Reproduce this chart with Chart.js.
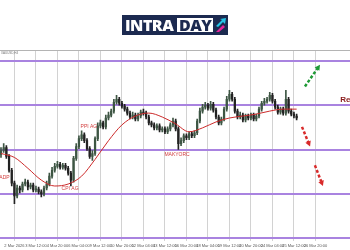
<!DOCTYPE html>
<html>
<head>
<meta charset="utf-8">
<script src="https://cdn.jsdelivr.net/npm/chart.js@4.4.1/dist/chart.umd.min.js"></script>
<style>
  body { margin: 0; background: #fff; }
  #wrap { position: relative; width: 350px; height: 250px; overflow: hidden; }
  #grafico { position: absolute; left: 0; top: 0; }
  #logo { position: absolute; left: 122px; top: 15px; width: 106px; height: 20px; background: #1c2a50;
          font-family: "Open Sans", sans-serif; font-weight: 800; font-size: 16px; line-height: 20px; }
  #logo .intra { position: absolute; left: 3px; top: 0; color: #fff; letter-spacing: -0.5px; }
  #logo .day { position: absolute; left: 55px; top: 3px; height: 14px; line-height: 14px; padding: 0 2px;
               background: #fff; color: #1c2a50; letter-spacing: -0.5px; }
  #logo svg { position: absolute; left: 93px; top: 2px; }
</style>
</head>
<body>
<div id="wrap">
  <canvas id="grafico" width="350" height="250"></canvas>
  <div id="logo">
    <span class="intra">INTRA</span><span class="day">DAY</span>
    <svg width="12" height="16" viewBox="0 0 12 16">
      <polygon points="1,9 7,3 5,2 11,1 10,7 8,5 3,10" fill="#25c4e6"/>
      <polygon points="1,15 8,8 10,10 4,15" fill="#e3259b"/>
    </svg>
  </div>
</div>
<script>
// candles (H4)
var opens = [
  5170, 5178, 5184, 5166, 5138, 5112, 5086, 5102, 5098, 5110,
  5114, 5104, 5108, 5098, 5100, 5094, 5090, 5102, 5110, 5126,
  5138, 5146, 5150, 5144, 5148, 5142, 5132, 5118, 5162, 5186,
  5202, 5210, 5198, 5182, 5166, 5172, 5202, 5228, 5234, 5226,
  5244, 5250, 5258, 5276, 5282, 5274, 5268, 5262, 5254, 5246,
  5250, 5242, 5248, 5256, 5254, 5246, 5234, 5230, 5224, 5228,
  5220, 5222, 5216, 5222, 5230, 5238, 5222, 5192, 5198, 5208,
  5204, 5212, 5208, 5214, 5238, 5258, 5266, 5270, 5264, 5272,
  5260, 5246, 5234, 5242, 5262, 5282, 5292, 5282, 5258, 5246,
  5250, 5240, 5248, 5244, 5250, 5242, 5248, 5262, 5274, 5278,
  5282, 5290, 5278, 5266, 5256, 5262, 5254, 5282, 5258, 5252, 5248
];
var closes = [
  5178, 5184, 5166, 5138, 5112, 5086, 5102, 5098, 5110, 5114,
  5104, 5108, 5098, 5100, 5094, 5090, 5102, 5110, 5126, 5138,
  5146, 5150, 5144, 5148, 5142, 5132, 5118, 5162, 5186, 5202,
  5210, 5198, 5182, 5166, 5172, 5202, 5228, 5234, 5226, 5244,
  5250, 5258, 5276, 5282, 5274, 5268, 5262, 5254, 5246, 5250,
  5242, 5248, 5256, 5254, 5246, 5234, 5230, 5224, 5228, 5220,
  5222, 5216, 5222, 5230, 5238, 5222, 5192, 5198, 5208, 5204,
  5212, 5208, 5214, 5238, 5258, 5266, 5270, 5264, 5272, 5260,
  5246, 5234, 5242, 5262, 5282, 5292, 5282, 5258, 5246, 5250,
  5240, 5248, 5244, 5250, 5242, 5248, 5262, 5274, 5278, 5282,
  5290, 5278, 5266, 5256, 5262, 5254, 5282, 5258, 5252, 5248, 5244
];
var highs = [
  5184, 5192, 5188, 5170, 5142, 5116, 5108, 5106, 5114, 5120,
  5118, 5112, 5112, 5106, 5104, 5098, 5106, 5116, 5132, 5144,
  5152, 5156, 5154, 5152, 5152, 5146, 5136, 5166, 5192, 5208,
  5218, 5214, 5202, 5186, 5178, 5206, 5234, 5240, 5238, 5250,
  5256, 5262, 5282, 5290, 5286, 5278, 5272, 5266, 5258, 5256,
  5254, 5254, 5260, 5262, 5258, 5250, 5238, 5234, 5232, 5232,
  5226, 5226, 5226, 5234, 5244, 5242, 5226, 5204, 5212, 5212,
  5216, 5216, 5218, 5242, 5264, 5272, 5276, 5274, 5278, 5276,
  5264, 5250, 5246, 5266, 5288, 5300, 5296, 5286, 5262, 5256,
  5254, 5252, 5252, 5254, 5254, 5252, 5266, 5278, 5284, 5286,
  5296, 5294, 5282, 5270, 5266, 5266, 5300, 5286, 5262, 5256, 5252
];
var lows = [
  5164, 5174, 5162, 5134, 5106, 5070, 5082, 5092, 5094, 5106,
  5098, 5100, 5094, 5094, 5090, 5084, 5086, 5098, 5106, 5122,
  5134, 5142, 5140, 5140, 5138, 5128, 5106, 5114, 5158, 5182,
  5198, 5194, 5178, 5162, 5158, 5168, 5198, 5224, 5222, 5222,
  5240, 5246, 5254, 5272, 5270, 5264, 5258, 5250, 5242, 5242,
  5238, 5238, 5244, 5250, 5242, 5230, 5226, 5220, 5220, 5216,
  5216, 5212, 5212, 5218, 5226, 5218, 5180, 5188, 5194, 5200,
  5200, 5204, 5204, 5210, 5234, 5254, 5262, 5260, 5260, 5256,
  5242, 5230, 5230, 5238, 5258, 5278, 5278, 5254, 5242, 5242,
  5236, 5236, 5240, 5240, 5238, 5238, 5244, 5258, 5270, 5274,
  5278, 5274, 5262, 5252, 5252, 5250, 5250, 5254, 5248, 5244, 5240
];

// media movel (linha vermelha), um ponto a cada 5 velas
var maIndex = [0, 5, 10, 15, 20, 25, 30, 35, 40, 45, 50, 55, 60, 65, 70, 75, 80, 85, 90, 95, 100, 105, 110];
var maValues = [5172, 5164, 5142, 5118, 5106, 5110, 5126, 5160, 5198, 5230, 5248, 5254,
                5246, 5232, 5216, 5224, 5236, 5244, 5248, 5252, 5258, 5262, 5262];

// suportes / resistencias (linhas roxas)
var levels = [5360, 5270, 5180, 5090, 5000];

// eixo de datas
var tickIndex = [5, 13, 21, 29, 37, 45, 53, 61, 69, 77, 85, 93, 101, 109, 117];
var dateLabels = ["2 Mar 2026", "3 Mar 12:00", "4 Mar 20:00", "6 Mar 04:00", "9 Mar 12:00",
                  "10 Mar 20:00", "12 Mar 04:00", "13 Mar 12:00", "16 Mar 20:00", "18 Mar 04:00",
                  "19 Mar 12:00", "20 Mar 20:00", "24 Mar 04:00", "25 Mar 12:00", "26 Mar 20:00"];

// anotacoes (em unidades do grafico)
var notes = [
  { text: "ADP", x: 3.2, y: 5122, align: "right" },
  { text: "CPI AG", x: 25.7, y: 5100, align: "center" },
  { text: "PPI AG", x: 32.7, y: 5226, align: "center" },
  { text: "MAKYORC", x: 65.5, y: 5170, align: "center" }
];
var arrows = [
  { from: [113.1, 5308], to: [118.7, 5352], color: "#1f9a36" },
  { from: [112.0, 5226], to: [115.0, 5186], color: "#d82a2a" },
  { from: [116.8, 5148], to: [119.8, 5106], color: "#d82a2a" }
];

var wickData = [], bodyData = [], maData = [];
for (var i = 0; i < closes.length; i++) {
  wickData.push({ x: i, y: [lows[i], highs[i]] });
  bodyData.push({ x: i, y: [opens[i], closes[i]] });
}
for (var k = 0; k < maIndex.length; k++) {
  maData.push({ x: maIndex[k], y: maValues[k] });
}

var xMin = -0.37, xMax = 129.86;

function candleColor(ctx) {
  var i = ctx.dataIndex;
  return closes[i] >= opens[i] ? "#3e5644" : "#222";
}

function drawLevel(chart, lv) {
  var ctx = chart.ctx;
  var area = chart.chartArea;
  var y = Math.round(chart.scales.y.getPixelForValue(lv));
  ctx.save();
  ctx.fillStyle = "#a983e0";
  ctx.fillRect(area.left, y - 1, area.right - area.left, 2);
  ctx.restore();
}

function drawArrow(ctx, x1, y1, x2, y2, color) {
  var ang = Math.atan2(y2 - y1, x2 - x1);
  var head = 6;
  var ex = x2 - Math.cos(ang) * head * 0.8;
  var ey = y2 - Math.sin(ang) * head * 0.8;
  ctx.strokeStyle = color;
  ctx.fillStyle = color;
  ctx.lineWidth = 2.5;
  ctx.setLineDash([3, 2]);
  ctx.beginPath();
  ctx.moveTo(x1, y1);
  ctx.lineTo(ex, ey);
  ctx.stroke();
  ctx.setLineDash([]);
  ctx.beginPath();
  ctx.moveTo(x2, y2);
  ctx.lineTo(x2 - head * Math.cos(ang - 0.5), y2 - head * Math.sin(ang - 0.5));
  ctx.lineTo(x2 - head * Math.cos(ang + 0.5), y2 - head * Math.sin(ang + 0.5));
  ctx.closePath();
  ctx.fill();
}

var extras = {
  id: "extras",
  beforeDatasetsDraw: function (chart) {
    // linhas roxas atras das velas
    levels.forEach(function (lv) { drawLevel(chart, lv); });
  },
  afterDatasetsDraw: function (chart) {
    var ctx = chart.ctx;
    var xs = chart.scales.x;
    var ys = chart.scales.y;
    var area = chart.chartArea;
    ctx.save();

    // borda de cima
    ctx.strokeStyle = "#b4b4b4";
    ctx.lineWidth = 1;
    ctx.beginPath();
    ctx.moveTo(area.left, area.top + 0.5);
    ctx.lineTo(area.right, area.top + 0.5);
    ctx.stroke();

    ctx.fillStyle = "#777";
    ctx.font = "3px 'Liberation Sans'";
    ctx.textAlign = "left";
    ctx.textBaseline = "top";
    ctx.fillText("XAUUSD,H4", area.left + 1, area.top + 2);

    arrows.forEach(function (a) {
      drawArrow(ctx,
        xs.getPixelForValue(a.from[0]), ys.getPixelForValue(a.from[1]),
        xs.getPixelForValue(a.to[0]), ys.getPixelForValue(a.to[1]), a.color);
    });

    ctx.fillStyle = "#d23c3c";
    ctx.font = "5px 'Liberation Sans'";
    ctx.textBaseline = "middle";
    notes.forEach(function (n) {
      ctx.textAlign = n.align;
      ctx.fillText(n.text, xs.getPixelForValue(n.x), ys.getPixelForValue(n.y));
    });

    // texto da resistencia, cortado na borda
    ctx.fillStyle = "#8a1c1c";
    ctx.font = "bold 8px 'Liberation Sans'";
    ctx.textAlign = "left";
    ctx.textBaseline = "bottom";
    ctx.fillText("Resistance", xs.getPixelForValue(126.2), ys.getPixelForValue(levels[1]) - 1);

    ctx.restore();
  },
  afterDraw: function (chart) {
    // a linha de baixo nao tem velas por cima, desenha de novo no fim
    drawLevel(chart, levels[levels.length - 1]);
  }
};

var graf = document.getElementById("grafico").getContext("2d");
var grafico = new Chart(graf, {
  type: "bar",
  data: {
    datasets: [
      {
        type: "bar",
        data: wickData,
        backgroundColor: candleColor,
        barThickness: 1,
        grouped: false,
        order: 2
      },
      {
        type: "bar",
        data: bodyData,
        backgroundColor: candleColor,
        barThickness: 1.6,
        minBarLength: 1,
        grouped: false,
        order: 2
      },
      {
        type: "line",
        data: maData,
        borderColor: "#cc2b2b",
        borderWidth: 1,
        pointRadius: 0,
        cubicInterpolationMode: "monotone",
        order: 1
      }
    ]
  },
  options: {
    responsive: false,
    animation: false,
    devicePixelRatio: 1,
    layout: { padding: { top: 50, left: 0, right: 0, bottom: 0 } },
    plugins: {
      legend: { display: false },
      tooltip: { enabled: false },
      title: { display: false }
    },
    scales: {
      x: {
        type: "linear",
        offset: false,
        min: xMin,
        max: xMax,
        afterBuildTicks: function (axis) {
          axis.ticks = tickIndex.map(function (v) { return { value: v }; });
        },
        grid: { color: "#d2d2d2", lineWidth: 1, drawTicks: false, offset: false },
        border: { display: false },
        ticks: {
          autoSkip: false,
          maxRotation: 0,
          padding: 2,
          align: "center",
          color: "#555",
          font: { size: 4, family: "Liberation Sans" },
          callback: function (value, index) {
            return dateLabels[index];
          }
        }
      },
      y: {
        display: false,
        min: 4994,
        max: 5382
      }
    }
  },
  plugins: [extras]
});
</script>
</body>
</html>
